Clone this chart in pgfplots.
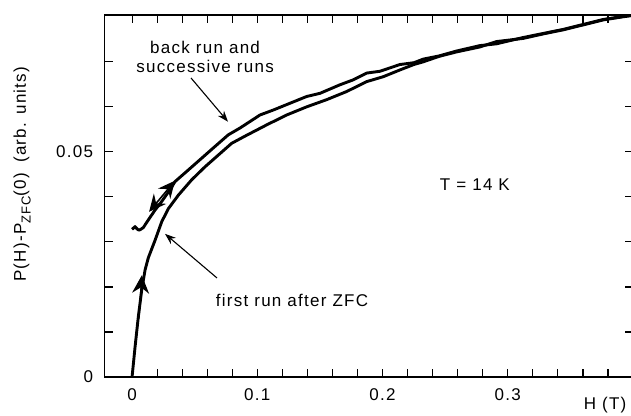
\documentclass[border=0pt]{standalone}
\usepackage{fontspec}
\setmainfont{Liberation Sans}[LetterSpace=7.5]
\usepackage{pgfplots}
\pgfplotsset{compat=1.18}
\usetikzlibrary{arrows.meta}
\begin{document}
\begin{tikzpicture}[font=\fontsize{17bp}{19bp}\selectfont]
\begin{axis}[
  scale only axis, width=528bp, height=362bp,
  xmin=-0.022, xmax=0.3996, ymin=0, ymax=0.0804,
  axis line style={line width=1.4bp},
  tick style={line width=1.1bp, black},
  major tick length=8bp, minor tick length=8bp,
  tick align=inside,
  xtick={0,0.1,0.2,0.3}, xticklabels={0,0.1,0.2,0.3},
  minor xtick={0.02,0.04,0.06,0.08,0.12,0.14,0.16,0.18,0.22,0.24,0.26,0.28,0.32,0.34,0.36,0.38},
  ytick={0,0.05}, yticklabels={0,0.05},
  minor ytick={0.01,0.02,0.03,0.04,0.06,0.07},
  scaled ticks=false,
  ticklabel style={font=\fontsize{17bp}{19bp}\selectfont},
  label style={font=\fontsize{17bp}{19bp}\selectfont},
  xticklabel style={yshift=-8bp},
  yticklabel style={xshift=-8bp},
  /pgf/number format/assume math mode=true,
  xlabel={H (T)},
  xlabel style={at={(rel axis cs:0.948,-0.077)}, anchor=center},
  ylabel={P(H)-P\raisebox{-0.55ex}{\fontsize{13bp}{13bp}\selectfont ZFC}(0)\hspace{0.6em}(arb. units)},
  ylabel style={at={(rel axis cs:-0.156,0.56)}, anchor=center},
  clip=true,
]
% first run after ZFC (lower curve)
\addplot[line width=2.9bp, line join=round, black] coordinates {
(0,0) (0.0024,0.0067) (0.005,0.0134) (0.0077,0.0193) (0.0104,0.0238)
(0.013,0.0265) (0.0184,0.0304) (0.0237,0.0345) (0.029,0.0374) (0.037,0.0404)
(0.0476,0.0438) (0.0583,0.0467) (0.0689,0.0493) (0.0795,0.0519) (0.0902,0.0535)
(0.1075,0.0560) (0.1235,0.0582) (0.1394,0.0600) (0.1554,0.0616) (0.1713,0.0634)
(0.1873,0.0656) (0.2006,0.0667) (0.2139,0.0682) (0.2250,0.0694) (0.2325,0.0700)
(0.2450,0.0712) (0.2591,0.0722) (0.2777,0.0733) (0.2910,0.0745) (0.3123,0.0752)
(0.3283,0.0762) (0.3442,0.0771) (0.3602,0.0782) (0.3761,0.0793) (0.3921,0.0800)
(0.40,0.0803)};
% back run and successive runs (upper curve)
\addplot[line width=2.9bp, line join=round, black] coordinates {
(0.0,0.0328) (0.0012,0.0331) (0.0024,0.0334) (0.004,0.0329) (0.0055,0.0326) (0.0075,0.0329) (0.009,0.0332) (0.013,0.0349)
(0.0184,0.0371) (0.0237,0.0390) (0.0303,0.0416) (0.0343,0.0434) (0.045,0.0460)
(0.0556,0.0486) (0.0662,0.0512) (0.0769,0.0538) (0.0862,0.0553) (0.1022,0.0582)
(0.1128,0.0593) (0.1261,0.0608) (0.1394,0.0623) (0.15,0.0630) (0.166,0.0649)
(0.1766,0.0660) (0.1873,0.0675) (0.1979,0.0679) (0.2139,0.0694) (0.2250,0.0698)
(0.2325,0.0706) (0.2450,0.0713) (0.2591,0.0724) (0.2777,0.0736) (0.2910,0.0740)
(0.3123,0.0754) (0.3283,0.0763) (0.3442,0.0772) (0.3602,0.0783) (0.3761,0.0794)
(0.3921,0.0801) (0.40,0.0804)};
% direction arrows on the curves
\addplot[line width=1.4bp, black, -{Stealth[length=18bp,width=17bp,inset=6bp]}] coordinates {(0.0055,0.0130) (0.0078,0.0226)};
\addplot[line width=1.6bp, black, {Stealth[length=17bp,width=16bp,inset=6bp]}-{Stealth[length=17bp,width=16bp,inset=6bp]}] coordinates {(0.0136,0.0367) (0.0343,0.0436)};
% annotation arrows
\addplot[line width=1.1bp, black, -{Stealth[length=11bp,width=8bp]}] coordinates {(0.0471,0.0664) (0.0766,0.0567)};
\addplot[line width=1.1bp, black, -{Stealth[length=11bp,width=8bp]}] coordinates {(0.0678,0.0220) (0.0263,0.0318)};
\node[align=center, font=\fontsize{17bp}{19bp}\selectfont] at (axis cs:0.0583,0.0710) {back run and\\successive runs};
\node[font=\fontsize{17bp}{19bp}\selectfont] at (axis cs:0.1277,0.0171) {first run after ZFC};
\node[font=\fontsize{17bp}{19bp}\selectfont] at (axis cs:0.2737,0.0427) {T = 14 K};
\coordinate (bbll) at (rel axis cs:-0.1979,-0.105);
\coordinate (bbur) at (rel axis cs:0.9970,1.0414);
\end{axis}
\pgfresetboundingbox
\path (bbll) rectangle (bbur);
\end{tikzpicture}
\end{document}
